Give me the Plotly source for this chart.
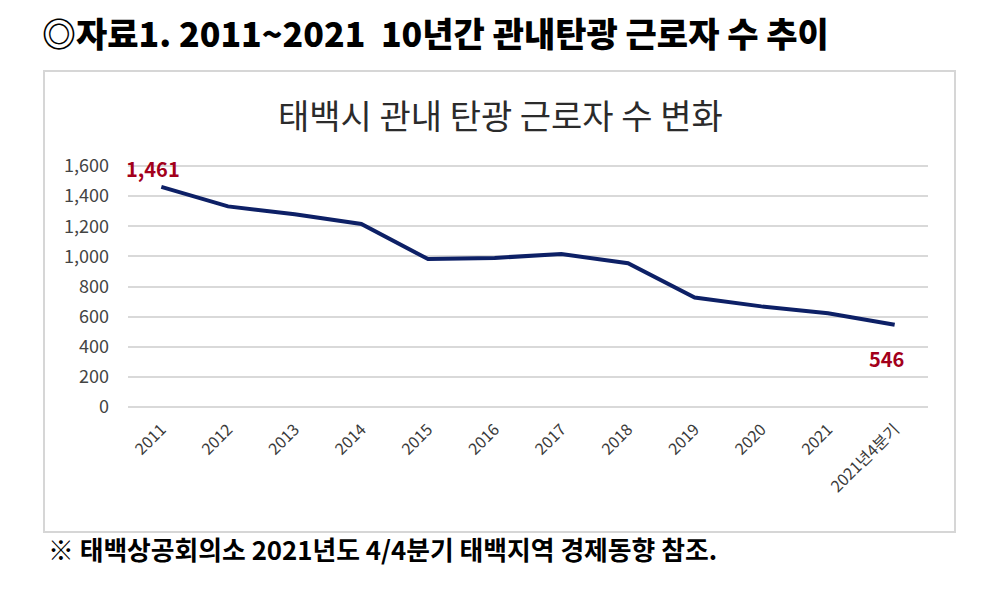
import plotly.graph_objects as go

categories = ["2011", "2012", "2013", "2014", "2015", "2016", "2017", "2018",
              "2019", "2020", "2021", "2021년4분기"]
workers = [1461, 1332, 1280, 1215, 982, 990, 1015, 955, 727, 668, 622, 546]

main_title = "◎자료1. 2011~2021  10년간 관내탄광 근로자 수 추이"
chart_title = "태백시 관내 탄광 근로자 수 변화"
footnote = "※ 태백상공회의소 2021년도 4/4분기 태백지역 경제동향 참조."
y_ticks = [0, 200, 400, 600, 800, 1000, 1200, 1400, 1600]

KR = "Noto Sans CJK KR"
W, H = 1000, 604
L, R, T, B = 128, 72, 163, 194
pw, ph = W - L - R, H - T - B


def px(x):
    return (x - L) / pw


def py(y):
    return (H - B - y) / ph


fig = go.Figure()
fig.add_trace(go.Scatter(
    x=categories, y=workers, mode="lines",
    line=dict(color="#0d2066", width=4),
    hoverinfo="x+y", showlegend=False,
))

# data labels on first and last point (category axis -> use index positions)
first, last = 0, len(categories) - 1
fig.add_annotation(x=first, y=workers[first], xref="x", yref="y",
                   text=f"{workers[first]:,}", showarrow=False, xshift=-8, yshift=18,
                   font=dict(family=KR, size=20, color="#a3001b", weight="bold"))
fig.add_annotation(x=last, y=workers[last], xref="x", yref="y",
                   text=f"{workers[last]:,}", showarrow=False, xshift=-8, yshift=-34,
                   font=dict(family=KR, size=20, color="#a3001b", weight="bold"))

# titles and footnote
fig.add_annotation(x=px(40), y=py(33), xref="paper", yref="paper",
                   xanchor="left", yanchor="middle", showarrow=False,
                   text=main_title,
                   font=dict(family=KR, size=34, color="#000000", weight=900))
fig.add_annotation(x=px(500), y=py(114), xref="paper", yref="paper",
                   xanchor="center", yanchor="middle", showarrow=False,
                   text=chart_title,
                   font=dict(family=KR, size=34, color="#2b2b2b"))
fig.add_annotation(x=px(46), y=py(548), xref="paper", yref="paper",
                   xanchor="left", yanchor="middle", showarrow=False,
                   text=footnote,
                   font=dict(family=KR, size=25.8, color="#000000", weight="bold"))

# chart frame
fig.add_shape(type="rect", xref="paper", yref="paper",
              x0=px(44), x1=px(955), y0=py(532), y1=py(71),
              line=dict(color="#d6d6d6", width=2), fillcolor="rgba(0,0,0,0)",
              layer="below")

fig.update_layout(
    width=W, height=H,
    margin=dict(l=L, r=R, t=T, b=B, pad=0),
    paper_bgcolor="white", plot_bgcolor="white",
    showlegend=False,
    xaxis=dict(
        type="category", range=[-0.5, len(categories) - 0.5],
        showgrid=False, showline=False, zeroline=False, ticks="",
        tickangle=-45, ticklabelstandoff=6,
        tickfont=dict(family=KR, size=16, color="#3a3a3a"),
    ),
    yaxis=dict(
        range=[-20, 1620], tickvals=y_ticks, tickformat=",",
        showgrid=True, gridcolor="#d9d9d9", gridwidth=1.5,
        zeroline=True, zerolinecolor="#d9d9d9", zerolinewidth=1.5,
        showline=False, ticks="", ticklabelstandoff=18,
        tickfont=dict(family=KR, size=18, color="#444444"),
    ),
)

fig.write_html("out.html")
